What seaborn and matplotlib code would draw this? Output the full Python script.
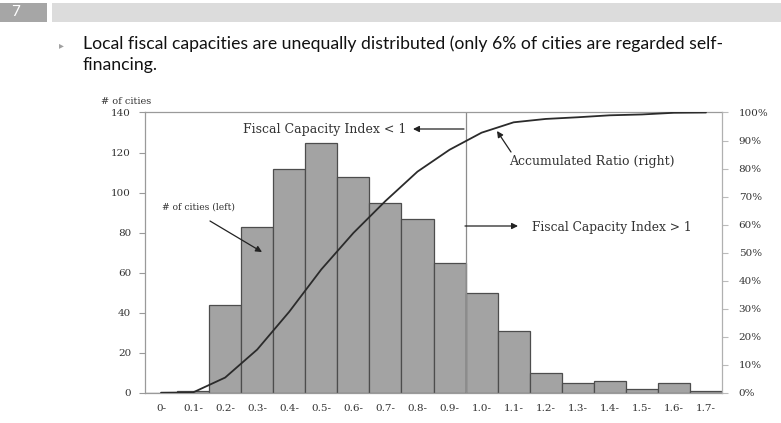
import matplotlib
matplotlib.use("Agg")
import matplotlib.pyplot as plt
from matplotlib.patches import Rectangle
import numpy as np
import pandas as pd
import seaborn as sns

# values
bins = ["0-", "0.1-", "0.2-", "0.3-", "0.4-", "0.5-", "0.6-", "0.7-", "0.8-",
        "0.9-", "1.0-", "1.1-", "1.2-", "1.3-", "1.4-", "1.5-", "1.6-", "1.7-"]
n_cities = [0, 1, 44, 83, 112, 125, 108, 95, 87, 65, 50, 31, 10, 5, 6, 2, 5, 1]
acc_ratio = [0.0, 0.1, 5.4, 15.4, 28.9, 44.0, 57.0, 68.4, 78.9,
             86.7, 92.8, 96.5, 97.7, 98.3, 99.0, 99.3, 99.9, 100.0]
left_ticks = [0, 20, 40, 60, 80, 100, 120, 140]
right_ticks = [0, 10, 20, 30, 40, 50, 60, 70, 80, 90, 100]

W, H = 781, 423
SERIF = "DejaVu Serif"
TXT = "#333333"

sns.set_style("white")
plt.rcParams["font.family"] = ["DejaVu Serif"]

fig = plt.figure(figsize=(W / 100, H / 100), dpi=100)

# slide header
fig.add_artist(Rectangle((0, 1 - 22 / H), 47 / W, 19 / H, transform=fig.transFigure,
                         facecolor="#a6a6a6", edgecolor="none"))
fig.add_artist(Rectangle((52 / W, 1 - 22 / H), 1, 19 / H, transform=fig.transFigure,
                         facecolor="#dcdcdc", edgecolor="none"))
fig.text(11 / W, 1 - 12.5 / H, "7", color="white", fontsize=11, family="Lato",
         va="center", ha="left")
fig.text(59 / W, 1 - 45 / H, "\u25b8", color="#a0a0a0", fontsize=7,
         family="DejaVu Sans", va="center", ha="left")
fig.text(83 / W, 1 - 44 / H,
         "Local fiscal capacities are unequally distributed (only 6% of cities are regarded self-",
         fontsize=12.7, family="Lato", color="#111111", va="center", ha="left")
fig.text(83 / W, 1 - 65 / H, "financing.",
         fontsize=12.7, family="Lato", color="#111111", va="center", ha="left")

x0, x1, ytop, ybot = 145, 722, 112.5, 392.7
ax = fig.add_axes([x0 / W, (H - ybot) / H, (x1 - x0) / W, (ybot - ytop) / H])

df = pd.DataFrame({"bin": bins, "count": n_cities, "ratio": acc_ratio})
df["pos"] = np.arange(len(df))

sns.barplot(data=df, x="bin", y="count", ax=ax, color="#a3a3a3",
            edgecolor="#4d4d4d", linewidth=0.9, width=1.0, saturation=1)
ax.set_xlim(-0.5, len(bins) - 0.5)
ax.set_ylim(0, 140)
ax.set_yticks(left_ticks)
ax.set_yticklabels([str(v) for v in left_ticks], fontsize=7.5, color=TXT, family=SERIF)
ax.set_xticks(df["pos"])
ax.set_xticklabels(bins, fontsize=7.5, color=TXT, family=SERIF)
ax.set_xticks(np.arange(-0.5, len(bins)), minor=True)
ax.tick_params(axis="x", which="major", length=0, pad=8)
ax.tick_params(axis="x", which="minor", length=4, color="#999999", direction="out")
ax.tick_params(axis="y", length=4, color="#999999", direction="out", pad=6, left=True)
ax.set_xlabel("")
ax.set_ylabel("")
for s in ["left", "bottom", "top"]:
    ax.spines[s].set_color("#9a9a9a")
    ax.spines[s].set_linewidth(0.9)
ax.spines["right"].set_visible(False)
ax.set_zorder(1)
ax.patch.set_visible(False)

# fiscal capacity = 1 divider
ax.axvline(bins.index("1.0-") - 0.5, color="#8c8c8c", linewidth=0.9)

ax2 = ax.twinx()
sns.lineplot(data=df, x="pos", y="ratio", ax=ax2, color="#2b2b2b", linewidth=1.3)
ax2.set_ylim(0, 100)
ax2.set_yticks(right_ticks)
ax2.set_yticklabels([f"{v}%" for v in right_ticks], fontsize=7.5, color=TXT, family=SERIF)
ax2.tick_params(axis="y", length=4, color="#bbbbbb", direction="out", pad=8, right=True)
ax2.set_ylabel("")
ax2.set_xlabel("")
for s in ["left", "bottom", "top"]:
    ax2.spines[s].set_visible(False)
ax2.spines["right"].set_color("#b0b0b0")
ax2.spines["right"].set_linewidth(0.9)
ax2.set_zorder(2)


def px(xp, yp):
    # reference pixel -> bar axis data coords
    step = (x1 - x0) / len(bins)
    return ((xp - x0) / step - 0.5, (ybot - yp) / (ybot - ytop) * 140)


arrow = dict(arrowstyle="-|>", color="#222222", lw=0.9, mutation_scale=9,
             shrinkA=0, shrinkB=0)
kw = dict(color=TXT, family=SERIF, va="center", ha="center", zorder=5)

ax.text(*px(325, 130), "Fiscal Capacity Index < 1", fontsize=9, **kw)
ax.annotate("", xy=px(413, 129), xytext=px(464, 129), arrowprops=arrow, zorder=5)
ax.text(*px(592, 161), "Accumulated Ratio (right)", fontsize=9, **kw)
ax.annotate("", xy=px(497, 131), xytext=px(511, 152), arrowprops=arrow, zorder=5)
ax.text(*px(612, 227), "Fiscal Capacity Index > 1", fontsize=8.8, **kw)
ax.annotate("", xy=px(518, 226), xytext=px(465, 226), arrowprops=arrow, zorder=5)
ax.text(*px(198, 207), "# of cities (left)", fontsize=6.6, **kw)
ax.annotate("", xy=px(262, 252), xytext=px(210, 221), arrowprops=arrow, zorder=5)
fig.text(126 / W, 1 - 101 / H, "# of cities", fontsize=7, color=TXT, family=SERIF,
         ha="center", va="center")

fig.savefig("out.png", dpi=100)
